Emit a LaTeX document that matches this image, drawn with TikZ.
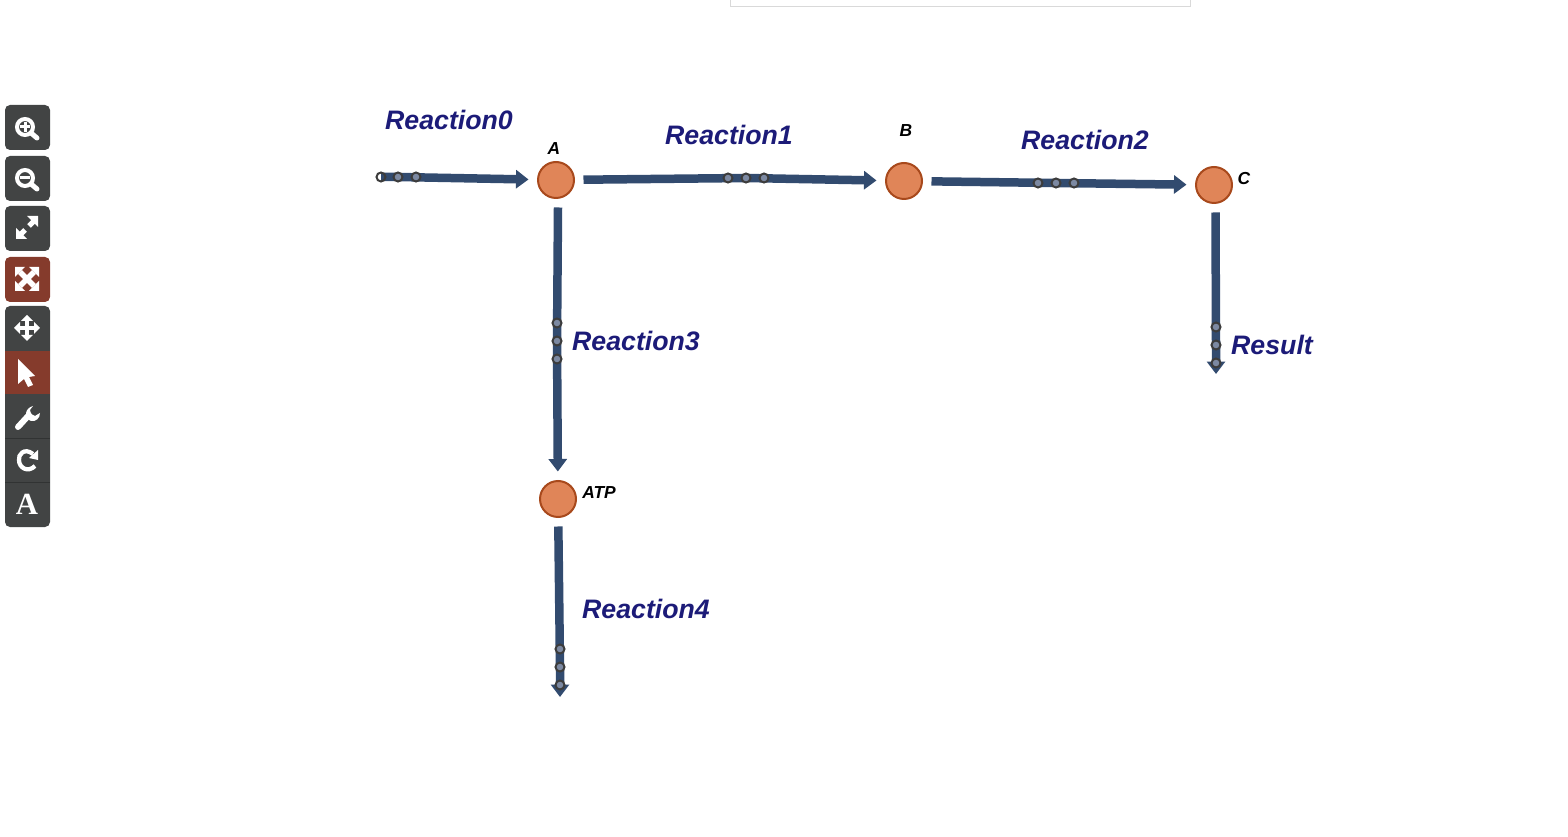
\documentclass[tikz,border=0pt]{standalone}
\usepackage{fontspec}
\setmainfont{Liberation Sans}
\newfontfamily\btnfont{Liberation Serif}
\usetikzlibrary{arrows.meta}
\definecolor{linkcol}{HTML}{324B6F}
\definecolor{speciesfill}{HTML}{E08558}
\definecolor{speciesline}{HTML}{A8491C}
\definecolor{reactcol}{HTML}{1C1B78}
\definecolor{handlefill}{HTML}{7C89A2}
\definecolor{handleline}{HTML}{3C3C3C}
\definecolor{btndark}{HTML}{424444}
\definecolor{btnred}{HTML}{853B2C}
\tikzset{
  species/.style={circle, draw=speciesline, fill=speciesfill, line width=.04cm, minimum size=.72cm, inner sep=0pt, outer sep=.19cm},
  flow/.style={draw=linkcol, line width=.17cm, -{Triangle[length=.25cm,width=.36cm]}},
  handle/.style={circle, draw=handleline, fill=handlefill, line width=.04cm, minimum size=.18cm, inner sep=0pt},
  reactlabel/.style={text=reactcol, font=\fontsize{15.2}{18}\selectfont\bfseries\itshape},
  specieslabel/.style={text=black, font=\fontsize{9.9}{12}\selectfont\bfseries\itshape},
  toolbtn/.style={fill=btndark, rounded corners=.1cm},
  icon/.style={draw=white, line width=.08cm},
  iconfill/.style={fill=white}
}
\begin{document}
\begin{tikzpicture}[x=.02cm, y=-.02cm]
\useasboundingbox (0,0) rectangle (1568,837);
% panel at the top
\draw[black!15, line width=.02cm] (730,0) -- (730,7) -- (1190,7) -- (1190,0);
% toolbar
\foreach \ya/\yb/\col in {105/150/btndark, 156/201/btndark, 206/251/btndark, 257/302/btnred}
  \fill[toolbtn, fill=\col] (5,\ya) rectangle (50,\yb);
\fill[toolbtn] (5,306) rectangle (50,527);
\fill[btnred] (5,351) rectangle (50,394);
\foreach \yy in {439,483}
  \draw[black!25!btndark, line width=.02cm] (5,\yy) -- (50,\yy);
% zoom in, zoom out
\foreach \yy in {127,178} {
  \draw[icon] (25,\yy) circle (.16cm);
  \draw[icon, line width=.1cm, line cap=round] (31,\yy+6) -- (37,\yy+11);
  \draw[icon, line width=.06cm] (20,\yy) -- (30,\yy);
}
\draw[icon, line width=.06cm] (25,122) -- (25,132);
% fit
\draw[icon, line width=.1cm] (20,235) -- (25,230);
\draw[icon, line width=.1cm] (29,226) -- (34,221);
\fill[iconfill] (38,216) -- (38,227) -- (27,216) -- cycle;
\fill[iconfill] (16,239) -- (16,228) -- (27,239) -- cycle;
% fullscreen
\draw[icon, line width=.11cm] (20,272) -- (34,286);
\draw[icon, line width=.11cm] (34,272) -- (20,286);
\foreach \sx/\sy in {-1/-1, 1/-1, -1/1, 1/1}
  \fill[iconfill] (27+\sx*12,279+\sy*12) -- (27+\sx*2,279+\sy*12) -- (27+\sx*12,279+\sy*2) -- cycle;
% move
\draw[icon] (17,328) -- (37,328);
\draw[icon] (27,318) -- (27,338);
\fill[iconfill] (14,328) -- (20,322) -- (20,334) -- cycle;
\fill[iconfill] (40,328) -- (34,322) -- (34,334) -- cycle;
\fill[iconfill] (27,315) -- (21,321) -- (33,321) -- cycle;
\fill[iconfill] (27,341) -- (21,335) -- (33,335) -- cycle;
% pointer
\fill[iconfill] (18,359) -- (35,376) -- (29,377) -- (33,385) -- (28,387) -- (24,379) -- (18,384) -- cycle;
% wrench
\draw[icon, line width=.12cm, line cap=round] (18,427) -- (29,415);
\fill[iconfill] (33,406) .. controls (25,408) and (23,418) .. (31,421) .. controls (36,422) and (40,418) .. (40,413) -- (35,416) -- (31,414) -- (30,410) -- cycle;
% reset
\draw[icon, line width=.085cm] (33,454) .. controls (24,447) and (18,455) .. (19,460) .. controls (19,468) and (28,473) .. (35,466);
\fill[iconfill] (38,450) -- (38,460) -- (29,458) -- cycle;
% text
\node[text=white, font=\btnfont\fontsize{17.5}{20}\selectfont\bfseries] (btnA) at (27,504) {A};
% species
\node[species] (A) at (556,180) {};
\node[species] (B) at (904,181) {};
\node[species] (C) at (1214,185) {};
\node[species] (ATP) at (558,499) {};
\coordinate (start0) at (381,177);
\coordinate (end3) at (1216,374);
\coordinate (end4) at (560,697);
% reactions
\coordinate (mid0) at (398,177);
\coordinate (mid1) at (746,178);
\coordinate (mid2) at (1056,183);
\coordinate (mid3) at (557,341);
\coordinate (mid4) at (560,667);
\coordinate (mid5) at (1216,345);
\draw[flow] (start0) -- (mid0) -- (A);
\draw[flow] (A) -- (mid1) -- (B);
\draw[flow] (B) -- (mid2) -- (C);
\draw[flow] ([xshift=.04cm]A.south) -- (mid3) -- (ATP);
\draw[flow] (ATP) -- (mid4) -- (end4);
\draw[flow] ([xshift=.03cm]C.south) -- (mid5) -- (end3);
% handles
\node[handle, fill=white, path picture={\fill[linkcol] (path picture bounding box.north) rectangle (path picture bounding box.south east);}] (h0a) at (start0) {};
\node[handle] (h0b) at (mid0) {};
\node[handle] (h0c) at (416,177) {};
\foreach \hname/\hx/\hy in {1a/728/178, 1b/746/178, 1c/764/178, 2a/1038/183, 2b/1056/183, 2c/1074/183, 3a/557/323, 3b/557/341, 3c/557/359, 4a/560/649, 4b/560/667, 4c/560/685, 5a/1216/327, 5b/1216/345, 5c/1216/363}
  \node[handle] (h\hname) at (\hx,\hy) {};
% labels
\node[reactlabel] (lab0) at (449,120) {Reaction0};
\node[reactlabel] (lab1) at (729,135) {Reaction1};
\node[reactlabel] (lab2) at (1085,140) {Reaction2};
\node[reactlabel] (lab3) at (636,341) {Reaction3};
\node[reactlabel] (lab4) at (646,609) {Reaction4};
\node[reactlabel] (lab5) at (1272,345) {Result};
\node[specieslabel] (labA) at (554,149) {A};
\node[specieslabel] (labB) at (906,131) {B};
\node[specieslabel] (labC) at (1244,179) {C};
\node[specieslabel] (labATP) at (599,493) {ATP};
\end{tikzpicture}
\end{document}
